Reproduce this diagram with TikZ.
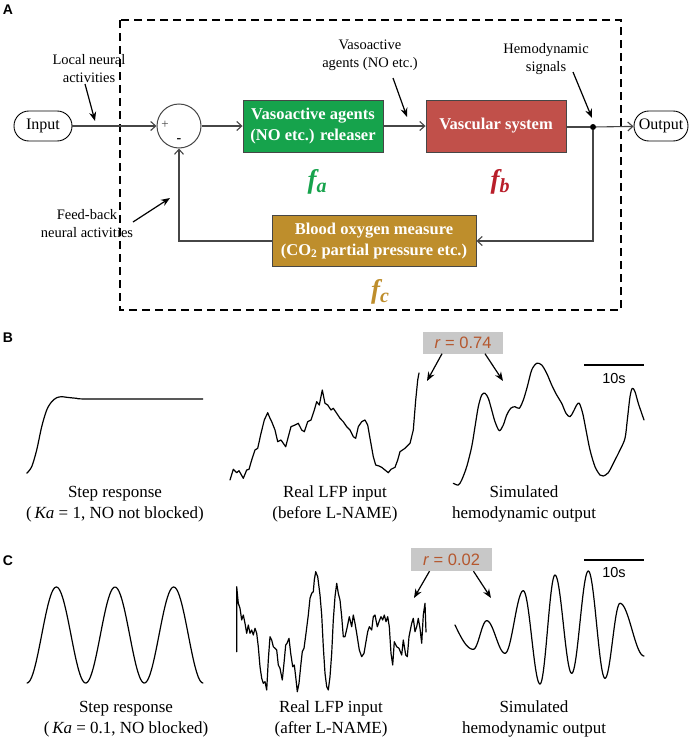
\documentclass[tikz,border=0pt]{standalone}
\usepackage{fontspec}
\setmainfont{Liberation Serif}
\setsansfont{Liberation Sans}
\usepackage{tikz}
\usetikzlibrary{arrows.meta}
\definecolor{agentgreen}{RGB}{22,163,76}
\definecolor{vascred}{RGB}{193,80,74}
\definecolor{fbred}{RGB}{185,30,42}
\definecolor{measbrown}{RGB}{190,142,44}
\definecolor{sigline}{RGB}{70,70,70}
\definecolor{rgray}{RGB}{200,200,200}
\definecolor{rtext}{RGB}{181,87,46}
\begin{document}
\begin{tikzpicture}[x=1pt,y=-1pt,
  every node/.style={inner sep=0pt},
  sig/.style={draw=sigline, line width=1.1pt, -{Straight Barb[length=5pt,width=9pt]}},
  wire/.style={draw=sigline, line width=1.1pt},
  note/.style={draw=black, line width=1.2pt, -{Stealth[length=9pt,width=7pt]}},
  stadium/.style={draw=black, line width=0.9pt, rounded corners=14.9pt, minimum height=30pt, font=\fontsize{16}{19}\selectfont},
  blockbox/.style={draw=sigline, line width=0.9pt, text=white, align=center, font=\bfseries\fontsize{16.5}{20.5}\selectfont},
  notetext/.style={align=center, font=\fontsize{14.5}{18}\selectfont},
  captext/.style={align=center, font=\fontsize{17}{21}\selectfont},
  panel/.style={font=\sffamily\bfseries\fontsize{14}{16}\selectfont},
  rbox/.style={fill=rgray, text=rtext, minimum width=80pt, minimum height=22pt, font=\sffamily\fontsize{16.5}{19}\selectfont},
  trace/.style={draw=black, line width=1.2pt, line join=round, line cap=round},
  scalebar/.style={draw=black, line width=2pt}]
\useasboundingbox (0,0) rectangle (690,739);

\node[panel] (pA) at (8,10) {A};
\draw[black, line width=1.8pt, dash pattern=on 8pt off 5pt] (120,20) rectangle (621,310);

\node[stadium, minimum width=58pt] (input) at (43,126) {Input};
\node[draw=sigline, line width=1pt, circle, minimum size=44pt] (sum) at (179,126) {};
\node[font=\fontsize{13}{13}\selectfont, text=sigline] (plus) at (165,125) {+};
\node[font=\bfseries\fontsize{14}{14}\selectfont] (minus) at (179,141) {-};
\node[blockbox, fill=agentgreen, minimum width=140pt, minimum height=52pt] (fa) at (313,126) {Vasoactive agents\\(NO etc.) releaser};
\node[blockbox, fill=vascred, minimum width=140pt, minimum height=52pt] (fb) at (496,126) {Vascular system};
\node[blockbox, fill=measbrown, minimum width=204pt, minimum height=51pt] (fc) at (374,241) {Blood oxygen measure\\(CO\textsubscript{2} partial pressure etc.)};
\node[circle, fill=black, minimum size=6pt] (split) at (593,127) {};
\node[stadium, minimum width=54pt] (output) at (661,126) {Output};

\draw[sig] (input) -- (sum);
\draw[sig] (sum) -- (fa);
\draw[sig] (fa) -- (fb);
\draw[wire] (fb.east |- split) -- (split);
\draw[sig] (split) -- (output);
\draw[sig] (split) |- (fc);
\draw[sig] (fc) -| (sum);

\node[text=agentgreen, font=\bfseries\itshape\fontsize{27}{27}\selectfont] (fatext) at (317,182) {f\raisebox{-4pt}{\fontsize{20}{20}\selectfont a}};
\node[text=fbred, font=\bfseries\itshape\fontsize{27}{27}\selectfont] (fbtext) at (500,182) {f\raisebox{-4pt}{\fontsize{20}{20}\selectfont b}};
\node[text=measbrown, font=\bfseries\itshape\fontsize{27}{27}\selectfont] (fctext) at (380,292) {f\raisebox{-4pt}{\fontsize{20}{20}\selectfont c}};

\node[notetext] (localtxt) at (89,69) {Local neural\\activities};
\node[notetext] (agenttxt) at (370,55) {Vasoactive\\agents (NO etc.)};
\node[notetext] (hemotxt) at (546,59) {Hemodynamic\\signals};
\node[notetext] (feedtxt) at (87,224) {Feed-back\\neural activities};
\coordinate (localfrom) at (85,84);
\coordinate (localto) at (95,121);
\coordinate (agentfrom) at (393,78);
\coordinate (agentto) at (407,117);
\coordinate (hemofrom) at (573,72);
\coordinate (hemoto) at (592,118);
\coordinate (feedfrom) at (133,222);
\coordinate (feedto) at (170,198);
\draw[note] (localfrom) -- (localto);
\draw[note] (agentfrom) -- (agentto);
\draw[note] (hemofrom) -- (hemoto);
\draw[note] (feedfrom) -- (feedto);

\node[panel] (pB) at (8,338) {B};
\draw[trace] plot[smooth] coordinates {(26.7,473.3) (31.7,466.7) (36.7,450) (41.7,426.7) (46.7,410) (51.7,401.7) (56.7,397.7) (61.7,396.7) (66.7,397.3) (76.7,398.3) (90,399) (202.7,399)};
\draw[trace] (230,480) -- (233.3,469.3) -- (236.7,472.7) -- (239,470.7) -- (243.3,478.3) -- (246.7,470) -- (249,469.3) -- (251.7,460) -- (255,450) -- (257.7,448.3) -- (261,433.3) -- (264.3,420) -- (267.7,412.7) -- (270,418.3) -- (271.7,421.7) -- (275,430) -- (277.7,441.7) -- (281,440) -- (283.3,443.3) -- (285.7,446.7) -- (288.3,436.7) -- (291,426.7) -- (295,425) -- (298.3,423.3) -- (301.7,430) -- (304.3,431.7) -- (307.7,421.7) -- (311,420) -- (314.3,410) -- (316.7,401.7) -- (319.3,405) -- (322.3,390) -- (325,403.3) -- (327.7,405) -- (331,410) -- (333.3,408.3) -- (336.7,413.3) -- (340,418.3) -- (343.3,421.7) -- (346.7,426.7) -- (350,430) -- (353.3,436.7) -- (355.7,438.3) -- (358.3,426.7) -- (361.7,421.7) -- (365,420) -- (367.7,425) -- (370,438.3) -- (373.3,456.7) -- (375.7,465) -- (379,466) -- (381.7,467.3) -- (385,470) -- (388.3,472.7) -- (391,469.3) -- (395,467.3) -- (397.7,460) -- (400,451.7) -- (405,448.3) -- (410,443.3) -- (413.3,430) -- (415.7,400) -- (417.7,380) -- (419,373);
\draw[trace] plot[smooth] coordinates {(453.3,483.3) (458.3,485) (461.7,480) (466.7,466.7) (471.7,446.7) (475,426.7) (478.3,406.7) (481.7,395) (485,393.3) (488.3,398.3) (491.7,410) (495,421.7) (499.3,430.7) (503.3,425) (506.7,415) (510.7,408.3) (515,406.7) (519.3,408.3) (523.3,400) (527.3,386.7) (531.7,370) (536.7,363.3) (541.7,365) (546.7,373.3) (551.7,385) (556.7,395) (561.7,403.3) (566,413.3) (570,416.7) (573.3,411.7) (576.7,405) (579.3,403.3) (582.7,413.3) (586,430) (590,450) (595,466.7) (600,475) (603.3,476) (608.3,472.7) (613.3,463.3) (620,450) (625,438.3) (627.3,420) (630,396.7) (632.3,388.3) (635,391.7) (638.3,403.3) (644,420)};
\node[rbox] (rb) at (463,342.5) {\textit{r} = 0.74};
\coordinate (rbleft) at (427,381);
\coordinate (rbright) at (503,381);
\draw[note] ([xshift=-21pt]rb.south) -- (rbleft);
\draw[note] ([xshift=22pt]rb.south) -- (rbright);
\coordinate (barBl) at (584,365);
\coordinate (barBr) at (644,365);
\draw[scalebar] (barBl) -- (barBr);
\node[font=\sffamily\fontsize{14.5}{16}\selectfont] (tenB) at (614,379) {10s};
\node[captext] (capB1) at (115,504) {Step response\\(\,\textit{Ka} = 1, NO not blocked)};
\node[captext] (capB2) at (335,504) {Real LFP input\\(before L-NAME)};
\node[captext] (capB3) at (524,504) {Simulated\\hemodynamic output};

\node[panel] (pC) at (8,561) {C};
\draw[trace] plot[domain=27:203, samples=150] (\x,{635+48*cos((\x-27)/58.67*360)});
\draw[trace] (236.7,651.7) -- (236.7,586.7) -- (238.3,603.3) -- (240,608.3) -- (241.7,620) -- (243.3,615) -- (245,623.3) -- (246.7,633.3) -- (248.3,625) -- (250,633.3) -- (251.7,630) -- (253.3,635) -- (255,628.3) -- (256.7,633.3) -- (258.3,646.7) -- (260,666.7) -- (261.7,678.3) -- (263.3,683.3) -- (265,681.7) -- (266.7,690) -- (268.3,660) -- (270,636.7) -- (271.7,640) -- (273.3,646.7) -- (275,648.3) -- (276.7,650) -- (278.3,665) -- (280,668.3) -- (282.3,680) -- (284.3,660) -- (285.7,645) -- (287,643.3) -- (289,638.3) -- (290.7,653.3) -- (292.7,666.7) -- (294.3,665) -- (295.7,676.7) -- (297.3,691.7) -- (299,683.3) -- (301,663.3) -- (302.3,651.7) -- (304,648.3) -- (306,633.3) -- (308.3,615) -- (310,598.3) -- (311.7,593.3) -- (313.3,591.7) -- (314.3,580) -- (315.7,571.7) -- (317.7,576.7) -- (320,595) -- (321.7,615) -- (323.3,646.7) -- (325,673.3) -- (326.7,686.7) -- (328.3,690) -- (330,676.7) -- (331.7,653.3) -- (333.3,620) -- (335,596.7) -- (336.7,583.3) -- (338.3,593.3) -- (340,600) -- (341.7,616.7) -- (343.3,636.7) -- (345,636.7) -- (347.3,626.7) -- (349.3,616.7) -- (351.7,626.7) -- (353.3,615) -- (355,623.3) -- (356.7,633.3) -- (359.3,650) -- (361.7,656.7) -- (364,653.3) -- (365.7,643.3) -- (367.7,631.7) -- (369.3,626.7) -- (371.7,630) -- (373.3,616.7) -- (375,615) -- (377.3,626.7) -- (379,621.7) -- (381,616.7) -- (382.7,620) -- (384.3,615) -- (386,621.7) -- (387.7,616.7) -- (389.3,626.7) -- (391,653.3) -- (392.7,665) -- (394.3,641.7) -- (396.7,646.7) -- (399,648.3) -- (401.7,655) -- (403.3,640) -- (405.7,655) -- (407.3,656.7) -- (409,636.7) -- (411.7,623.3) -- (413.3,618.3) -- (415,631.7) -- (416.7,626.7) -- (418.3,618.3) -- (420,628.3) -- (421.7,643.3) -- (423.3,615) -- (425,603.3) -- (426,632);
\draw[trace] plot[domain=455:473.3, samples=16] (\x,{649.3-24.3*(1-sin((\x-455)/18.3*90))});
\foreach \xa/\ya/\xb/\yb in {473.3/649.3/486.7/620.7, 486.7/620.7/505/653.3, 505/653.3/523.3/590.7, 523.3/590.7/540/684, 540/684/555/575, 555/575/571.7/673.3, 571.7/673.3/588.3/571, 588.3/571/605/678.3, 605/678.3/620/603.3, 620/603.3/644/656}
  \draw[trace] plot[domain=\xa:\xb, samples=24] (\x,{(\ya+\yb)/2+(\ya-\yb)/2*cos((\x-\xa)/(\xb-\xa)*180)});
\node[rbox, minimum width=81pt, minimum height=23pt] (rc) at (451.5,559.5) {\textit{r} = 0.02};
\coordinate (rcleft) at (414,598);
\coordinate (rcright) at (491,598);
\draw[note] ([xshift=-22pt]rc.south) -- (rcleft);
\draw[note] ([xshift=22pt]rc.south) -- (rcright);
\coordinate (barCl) at (584,560);
\coordinate (barCr) at (644,560);
\draw[scalebar] (barCl) -- (barCr);
\node[font=\sffamily\fontsize{14.5}{16}\selectfont] (tenC) at (614,573) {10s};
\node[captext] (capC1) at (126,719) {Step response\\(\,\textit{Ka} = 0.1, NO blocked)};
\node[captext] (capC2) at (331,719) {Real LFP input\\(after L-NAME)};
\node[captext] (capC3) at (534,719) {Simulated\\hemodynamic output};
\end{tikzpicture}
\end{document}
